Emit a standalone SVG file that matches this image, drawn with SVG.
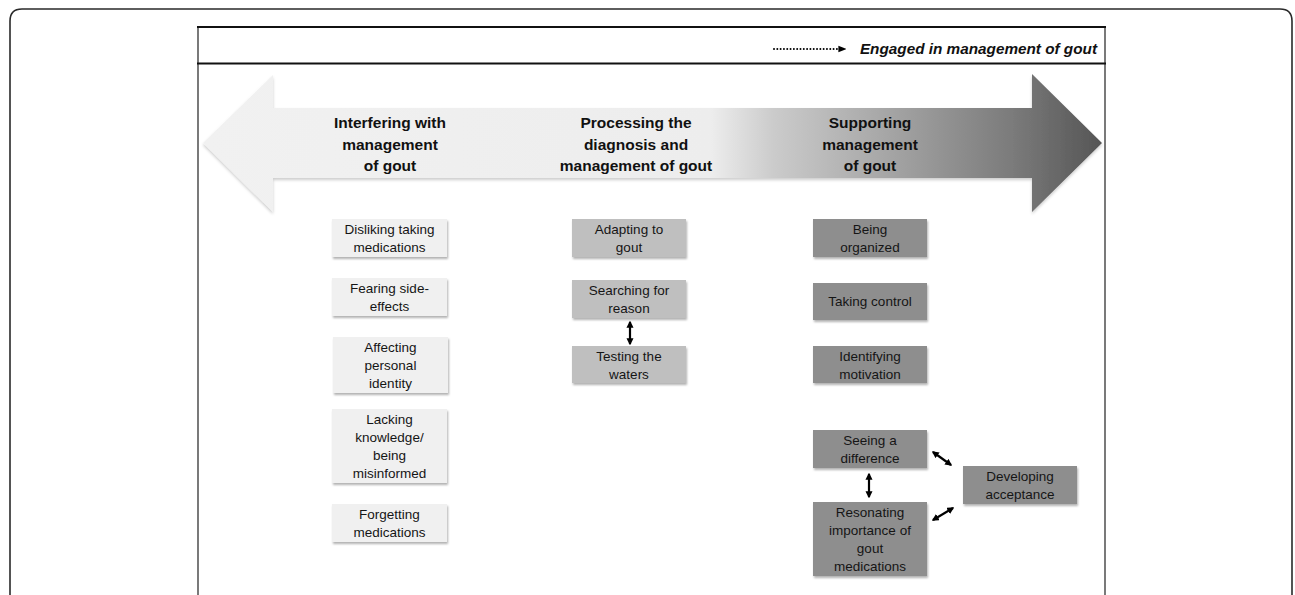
<svg xmlns="http://www.w3.org/2000/svg" width="1295" height="595" viewBox="0 0 1295 595">
<style>
.frame{fill:none;stroke:#2a2a2a;stroke-width:1.6}
.panel{fill:none;stroke:#222;stroke-width:1.2}
.hline{stroke:#111;stroke-width:2}
.lbl{font-family:"Liberation Sans",Arial,sans-serif;font-weight:bold;font-size:15.5px;fill:#111;text-anchor:middle}
.hdr{font-family:"Liberation Sans",Arial,sans-serif;font-weight:bold;font-style:italic;font-size:15.3px;fill:#111;text-anchor:end}
.t{font-family:"Liberation Sans",Arial,sans-serif;font-size:13.5px;fill:#151515;text-anchor:middle}
.b1{fill:#f0f0f0}
.b2{fill:#bfbfbf}
.b3{fill:#8e8e8e}
.con{stroke:#000;stroke-width:2.2;fill:none;marker-start:url(#ah);marker-end:url(#ah)}
</style>
<defs>
<linearGradient id="g" gradientUnits="userSpaceOnUse" x1="203" y1="0" x2="1102" y2="0">
<stop offset="0" stop-color="#f1f1f1"/>
<stop offset="0.565" stop-color="#ededed"/>
<stop offset="0.635" stop-color="#cbcbcb"/>
<stop offset="0.75" stop-color="#a9a9a9"/>
<stop offset="0.9" stop-color="#7b7b7b"/>
<stop offset="1" stop-color="#555555"/>
</linearGradient>
<filter id="sh" x="-10%" y="-10%" width="125%" height="140%">
<feDropShadow dx="1" dy="2" stdDeviation="1" flood-color="#000" flood-opacity="0.3"/>
</filter>
<filter id="ash" x="-5%" y="-10%" width="110%" height="125%">
<feDropShadow dx="0" dy="2" stdDeviation="1.5" flood-color="#000" flood-opacity="0.2"/>
</filter>
<marker id="ah" viewBox="0 0 10 10" refX="8" refY="5" markerWidth="3.2" markerHeight="3.2" orient="auto-start-reverse" markerUnits="strokeWidth">
<path d="M0,0 L10,5 L0,10 z" fill="#000"/>
</marker>
<marker id="dh" viewBox="0 0 10 10" refX="2" refY="5" markerWidth="4" markerHeight="4" orient="auto" markerUnits="strokeWidth">
<path d="M0,1 L10,5 L0,9 z" fill="#000"/>
</marker>
</defs>

<g id="frame">
<path class="frame" d="M10,595 V21 Q10,9 22,9 H1280 Q1292,9 1292,21 V595"/>
<path class="panel" d="M198,27 V595 M1105,27 V595"/>
<line class="hline" x1="197" y1="27" x2="1106" y2="27"/>
<line class="hline" x1="197" y1="63.5" x2="1106" y2="63.5"/>
</g>

<g id="legend">
<line x1="774" y1="49" x2="840" y2="49" stroke="#000" stroke-width="2" stroke-linecap="round" stroke-dasharray="0.01,3.3" marker-end="url(#dh)"/>
<text class="hdr" x="1097" y="54">Engaged in management of gout</text>
</g>

<g id="big-arrow">
<path d="M203,143 L273,75 L273,108 L1032,108 L1032,74 L1102,143 L1032,212 L1032,178 L273,178 L273,212 Z" fill="url(#g)" filter="url(#ash)"/>
<text class="lbl" x="390" y="128">Interfering with</text>
<text class="lbl" x="390" y="150">management</text>
<text class="lbl" x="390" y="171">of gout</text>
<text class="lbl" x="636" y="128">Processing the</text>
<text class="lbl" x="636" y="150">diagnosis and</text>
<text class="lbl" x="636" y="171">management of gout</text>
<text class="lbl" x="870" y="128">Supporting</text>
<text class="lbl" x="870" y="150">management</text>
<text class="lbl" x="870" y="171">of gout</text>
</g>

<g id="n-disliking"><rect class="b1" x="332" y="219" width="115" height="38" filter="url(#sh)"/>
<text class="t" x="389.5" y="234">Disliking taking</text><text class="t" x="389.5" y="252">medications</text></g>
<g id="n-fearing"><rect class="b1" x="332" y="278" width="115" height="38" filter="url(#sh)"/>
<text class="t" x="389.5" y="293">Fearing side-</text><text class="t" x="389.5" y="311">effects</text></g>
<g id="n-affecting"><rect class="b1" x="333" y="337" width="115" height="56" filter="url(#sh)"/>
<text class="t" x="390.5" y="352">Affecting</text><text class="t" x="390.5" y="370">personal</text><text class="t" x="390.5" y="388">identity</text></g>
<g id="n-lacking"><rect class="b1" x="332" y="409" width="115" height="74" filter="url(#sh)"/>
<text class="t" x="389.5" y="424">Lacking</text><text class="t" x="389.5" y="442">knowledge/</text><text class="t" x="389.5" y="460">being</text><text class="t" x="389.5" y="478">misinformed</text></g>
<g id="n-forgetting"><rect class="b1" x="332" y="504" width="115" height="38" filter="url(#sh)"/>
<text class="t" x="389.5" y="519">Forgetting</text><text class="t" x="389.5" y="537">medications</text></g>

<g id="n-adapting"><rect class="b2" x="572" y="219" width="114" height="38" filter="url(#sh)"/>
<text class="t" x="629" y="234">Adapting to</text><text class="t" x="629" y="252">gout</text></g>
<g id="n-searching"><rect class="b2" x="572" y="280" width="114" height="38" filter="url(#sh)"/>
<text class="t" x="629" y="295">Searching for</text><text class="t" x="629" y="313">reason</text></g>
<g id="n-testing"><rect class="b2" x="572" y="346" width="114" height="37" filter="url(#sh)"/>
<text class="t" x="629" y="361">Testing the</text><text class="t" x="629" y="379">waters</text></g>

<g id="n-organized"><rect class="b3" x="813" y="219" width="114" height="38" filter="url(#sh)"/>
<text class="t" x="870" y="234">Being</text><text class="t" x="870" y="252">organized</text></g>
<g id="n-control"><rect class="b3" x="813" y="283" width="114" height="37" filter="url(#sh)"/>
<text class="t" x="870" y="306">Taking control</text></g>
<g id="n-motivation"><rect class="b3" x="813" y="346" width="114" height="37" filter="url(#sh)"/>
<text class="t" x="870" y="361">Identifying</text><text class="t" x="870" y="379">motivation</text></g>
<g id="n-seeing"><rect class="b3" x="813" y="430" width="114" height="38" filter="url(#sh)"/>
<text class="t" x="870" y="445">Seeing a</text><text class="t" x="870" y="463">difference</text></g>
<g id="n-resonating"><rect class="b3" x="813" y="502" width="114" height="74" filter="url(#sh)"/>
<text class="t" x="870" y="517">Resonating</text><text class="t" x="870" y="535">importance of</text><text class="t" x="870" y="553">gout</text><text class="t" x="870" y="571">medications</text></g>
<g id="n-acceptance"><rect class="b3" x="963" y="466" width="114" height="38" filter="url(#sh)"/>
<text class="t" x="1020" y="481">Developing</text><text class="t" x="1020" y="499">acceptance</text></g>

<g id="connectors">
<line class="con" x1="630" y1="322" x2="630" y2="344"/>
<line class="con" x1="869" y1="474" x2="869" y2="497"/>
<line class="con" x1="933" y1="452" x2="951" y2="465"/>
<line class="con" x1="933" y1="520" x2="953" y2="508"/>
</g>
</svg>
